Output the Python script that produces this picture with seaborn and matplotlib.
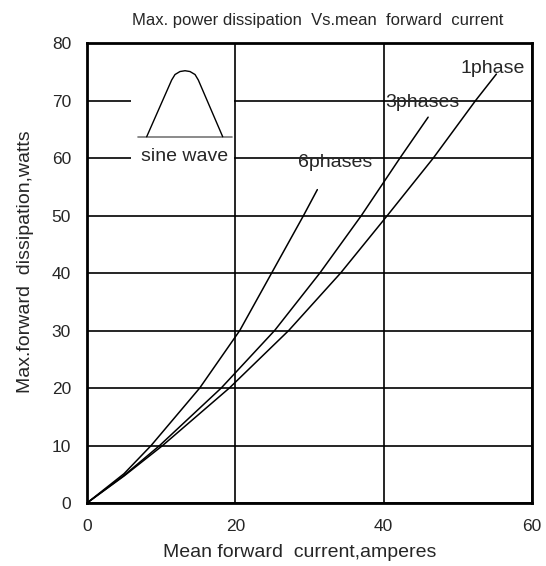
import matplotlib
matplotlib.use("Agg")
import matplotlib.pyplot as plt
import matplotlib.patches as mpatches
import seaborn as sns

# curves (mean forward current A, max dissipation W)
current_1ph = [0, 5, 10.2, 19.2, 27.2, 34.2, 40.5, 46.7, 52.4, 55.2]
power_1ph = [0, 4.7, 10, 20, 30, 40, 50, 60, 70, 74.6]
current_3ph = [0, 5, 9.8, 18.1, 25.3, 31.4, 37.0, 42.2, 46.0]
power_3ph = [0, 4.8, 10, 20, 30, 40, 50, 60, 67.1]
current_6ph = [0, 5, 8.65, 15.2, 20.6, 24.9, 29.2, 31.06]
power_6ph = [0, 5.1, 10, 20, 30, 40, 50, 54.5]

labels = ["1phase", "3phases", "6phases"]
label_x = [50.3, 40.2, 28.5]
label_y = [74.7, 68.9, 58.5]

# little sine-wave sketch in the upper left
sine_x = [8.05, 11.42, 11.87, 12.54, 13.22, 13.89, 14.57, 15.01, 18.30]
sine_y = [63.7, 73.57, 74.52, 75.04, 75.18, 75.04, 74.52, 73.57, 63.7]
base_x = [6.92, 19.6]
base_y = [63.7, 63.7]

x_ticks = [0, 20, 40, 60]
y_ticks = [0, 10, 20, 30, 40, 50, 60, 70, 80]

sns.set_style("white")
plt.rcParams['font.family'] = ['Liberation Sans', 'DejaVu Sans']

fig = plt.figure(figsize=(5.46, 5.66), dpi=100)
ax = fig.add_axes([0.1593, 0.1113, 0.815, 0.8127])

for cx, py in [(current_1ph, power_1ph), (current_3ph, power_3ph), (current_6ph, power_6ph)]:
    sns.lineplot(x=cx, y=py, ax=ax, color='black', lw=1.1, sort=False,
                 estimator=None, zorder=2)

for t, tx, ty in zip(labels, label_x, label_y):
    ax.text(tx, ty, t, fontsize=14, ha='left', va='baseline', zorder=1)

# white patch hides the grid behind the sketch
ax.add_patch(mpatches.Rectangle((5.93, 56.5), 13.85, 20.5, facecolor='white',
                                edgecolor='none', zorder=1.7))
ax.plot(base_x, base_y, color='#777777', lw=1.2, zorder=2)
ax.plot(sine_x, sine_y, color='black', lw=1.0, zorder=2)
ax.text(13.2, 59.4, "sine wave", fontsize=14, ha='center', va='baseline', zorder=3)

ax.set_xlim(0, 60)
ax.set_ylim(0, 80)
ax.set_xticks(x_ticks)
ax.set_yticks(y_ticks)
ax.grid(True, color='black', lw=1.2)
ax.tick_params(length=0, labelsize=12.5, pad=11.5)
for s in ax.spines.values():
    s.set_visible(True)
    s.set_color('black')
    s.set_linewidth(2)

ax.set_xlabel("Mean forward  current,amperes", fontsize=14)
ax.set_ylabel("Max.forward  dissipation,watts", fontsize=14)
ax.xaxis.set_label_coords(0.479, -0.089)
ax.yaxis.set_label_coords(-0.119, 0.525)

fig.text(0.581, 1 - 21 / 566, "Max. power dissipation  Vs.mean  forward  current",
         family=['Liberation Sans Narrow', 'Liberation Sans', 'DejaVu Sans'],
         fontsize=12, ha='center', va='center')

fig.savefig("out.png", dpi=100)
